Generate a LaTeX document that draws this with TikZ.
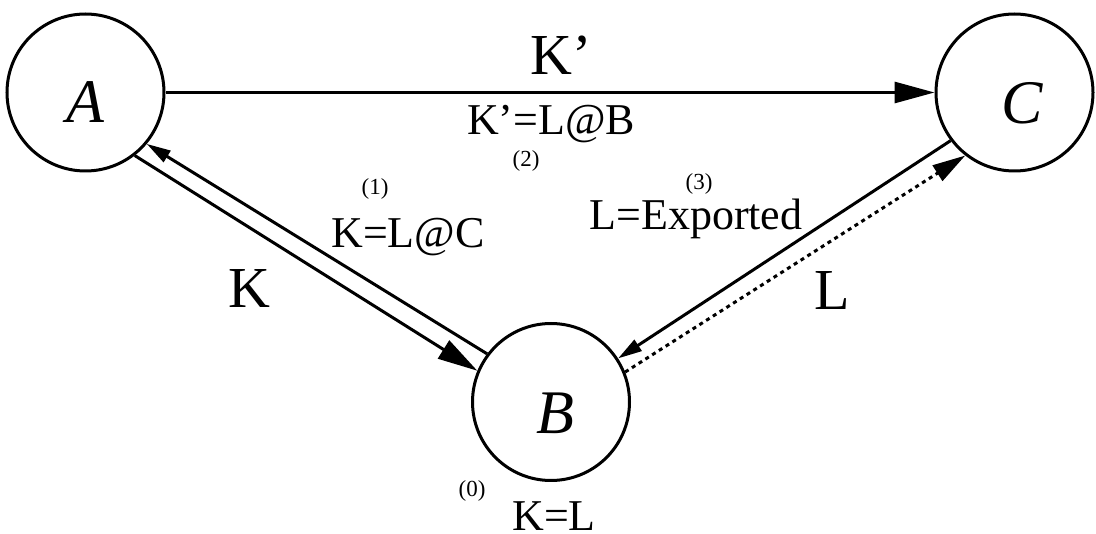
\documentclass[tikz,border=0pt]{standalone}
\usepackage{fontspec}
\setmainfont{Liberation Serif}
\usetikzlibrary{arrows.meta}
\begin{document}
\begin{tikzpicture}[x=1pt,y=-1pt,
  circ/.style={draw, circle, line width=3pt, minimum size=157pt, inner sep=0pt},
  lettr/.style={font=\fontsize{62}{64}\selectfont\itshape, inner sep=0pt},
  big/.style={font=\fontsize{58}{60}\selectfont, anchor=base, inner sep=0pt},
  mid/.style={font=\fontsize{44}{46}\selectfont, anchor=base, inner sep=0pt},
  small/.style={font=\fontsize{23}{25}\selectfont, anchor=base, inner sep=0pt},
  conn/.style={line width=3pt},
  bigtip/.style={-{Triangle[length=40pt,width=21pt]}},
  smalltip/.style={-{Triangle[length=24pt,width=13pt]}},
  midtip/.style={-{Triangle[length=33pt,width=18pt]}},
  dotline/.style={dash pattern=on 4pt off 4pt}
]
\useasboundingbox (0,0) rectangle (1096,534);

\node[circ, label={[lettr,yshift=-10pt]center:A}] (A) at (85.5,92.5) {};
\node[circ, label={[lettr,yshift=-11pt,xshift=4pt]center:B}] (B) at (551,402) {};
\node[circ, label={[lettr,yshift=-11pt,xshift=8pt]center:C}] (C) at (1014.5,92.5) {};

% A -> C
\draw[conn, bigtip] (A.0) -- (C.180);
% A -> B (lower) and B -> A (upper)
\draw[conn, bigtip] (A.-52.8) -- (B.157.7);
\draw[conn, smalltip] (B.143.4) -- (A.-40.5);
% C -> B solid, B -> C dotted
\draw[conn, smalltip] (C.217.7) -- (B.33.9);
\draw[conn, dotline, midtip] (B.22.6) -- (C.232.8);

% labels
\node[big] (lKp) at (561,75) {K’};
\node[mid] (lKpLB) at (551,135) {K’=L@B};
\node[small] (l2) at (526,167) {(2)};
\node[small] (l1) at (375,195) {(1)};
\node[mid] (lKLC) at (408,248) {K=L@C};
\node[small] (l3) at (699,190) {(3)};
\node[mid] (lLE) at (696,230) {L=Exported};
\node[big] (lK) at (249,308) {K};
\node[big] (lL) at (832,310) {L};
\node[small] (l0) at (472,497) {(0)};
\node[mid] (lKL) at (554,531) {K=L};
\end{tikzpicture}
\end{document}
